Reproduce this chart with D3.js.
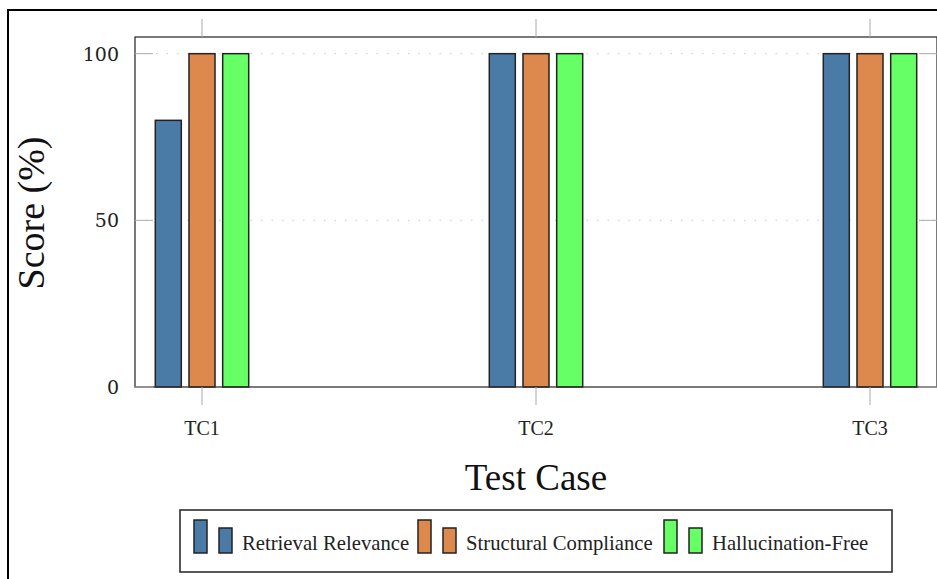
<!DOCTYPE html>
<html><head><meta charset="utf-8">
<script src="https://cdn.jsdelivr.net/npm/d3@7/dist/d3.min.js"></script>
<style>body{margin:0;background:#fff}svg{display:block}</style>
</head><body><svg id="c" width="937" height="579"></svg>
<script>
const categories = ["TC1", "TC2", "TC3"];
const seriesNames = ["Retrieval Relevance", "Structural Compliance", "Hallucination-Free"];
const retrieval = [80, 100, 100];
const structural = [100, 100, 100];
const hallucination = [100, 100, 100];
const yTicks = [0, 50, 100];
const colors = ["#4a7ba6", "#dd884c", "#66ff66"];

const series = [retrieval, structural, hallucination];
const svg = d3.select("#c");
const serif = "'Liberation Serif', 'Times New Roman', serif";

// outer frame
svg.append("rect").attr("x", 8).attr("y", 10).attr("width", 940).attr("height", 600)
  .attr("fill", "none").attr("stroke", "#000").attr("stroke-width", 2);

const L = 135, R = 937, T = 37, B = 387;
const x = d3.scalePoint().domain(categories).range([L + 67, R - 67]);
const y = d3.scaleLinear().domain([0, 105]).range([B, T]);
const off = d3.scaleBand().domain(d3.range(3)).range([-46.7, 46.7]).paddingInner(0.228);

// grid
svg.append("g").selectAll("line").data(yTicks.filter(d => d > 0)).join("line")
  .attr("x1", L).attr("x2", R).attr("y1", d => y(d)).attr("y2", d => y(d))
  .attr("stroke", "#c8c8c8").attr("stroke-width", 1).attr("stroke-dasharray", "1.5,9");

// bars
series.forEach((vals, si) => {
  svg.append("g").selectAll("rect").data(vals).join("rect")
    .attr("x", (d, i) => x(categories[i]) + off(si))
    .attr("width", off.bandwidth())
    .attr("y", d => y(d))
    .attr("height", d => y(0) - y(d))
    .attr("fill", colors[si]).attr("stroke", "#222").attr("stroke-width", 1.5);
});

// plot border
svg.append("rect").attr("x", L).attr("y", T).attr("width", R - L).attr("height", B - T)
  .attr("fill", "none").attr("stroke", "#333").attr("stroke-width", 1.3);

// y ticks (inside, both sides)
const yt = svg.append("g");
yt.selectAll("line.l").data(yTicks).join("line").attr("class", "l")
  .attr("x1", L).attr("x2", L + 18).attr("y1", d => y(d)).attr("y2", d => y(d))
  .attr("stroke", "#aaa").attr("stroke-width", 1);
yt.selectAll("line.r").data(yTicks).join("line").attr("class", "r")
  .attr("x1", R - 18).attr("x2", R).attr("y1", d => y(d)).attr("y2", d => y(d))
  .attr("stroke", "#aaa").attr("stroke-width", 1);
yt.selectAll("text").data(yTicks).join("text")
  .attr("x", 119).attr("y", d => y(d) + 7).attr("text-anchor", "end")
  .attr("font-family", "'DejaVu Serif', serif").attr("font-size", 19).attr("fill", "#222")
  .text(d => d);

// x ticks (outside, top and bottom)
const xt = svg.append("g");
xt.selectAll("line.b").data(categories).join("line").attr("class", "b")
  .attr("x1", d => x(d)).attr("x2", d => x(d)).attr("y1", B).attr("y2", B + 18)
  .attr("stroke", "#aaa").attr("stroke-width", 1);
xt.selectAll("line.t").data(categories).join("line").attr("class", "t")
  .attr("x1", d => x(d)).attr("x2", d => x(d)).attr("y1", T - 18).attr("y2", T)
  .attr("stroke", "#aaa").attr("stroke-width", 1);
xt.selectAll("text").data(categories).join("text")
  .attr("x", d => x(d)).attr("y", 435).attr("text-anchor", "middle")
  .attr("font-family", serif).attr("font-size", 20).attr("fill", "#222")
  .text(d => d);

// axis labels
svg.append("text").attr("transform", "translate(44,213) rotate(-90)")
  .attr("text-anchor", "middle").attr("font-family", serif).attr("font-size", 38)
  .attr("fill", "#111").text("Score (%)");
svg.append("text").attr("x", 536).attr("y", 490)
  .attr("text-anchor", "middle").attr("font-family", serif).attr("font-size", 37)
  .attr("fill", "#111").text("Test Case");

// legend
const lg = svg.append("g");
lg.append("rect").attr("x", 180).attr("y", 510).attr("width", 712).attr("height", 62)
  .attr("fill", "#fff").attr("stroke", "#222").attr("stroke-width", 1.5);
const legX = [194, 418, 664];
seriesNames.forEach((name, i) => {
  lg.append("rect").attr("x", legX[i]).attr("y", 520).attr("width", 13).attr("height", 33)
    .attr("fill", colors[i]).attr("stroke", "#222").attr("stroke-width", 1.5);
  lg.append("rect").attr("x", legX[i] + 25).attr("y", 528).attr("width", 13).attr("height", 25)
    .attr("fill", colors[i]).attr("stroke", "#222").attr("stroke-width", 1.5);
  lg.append("text").attr("x", legX[i] + 48).attr("y", 550)
    .attr("font-family", serif).attr("font-size", 20.7).attr("fill", "#222").text(name);
});
</script></body></html>
